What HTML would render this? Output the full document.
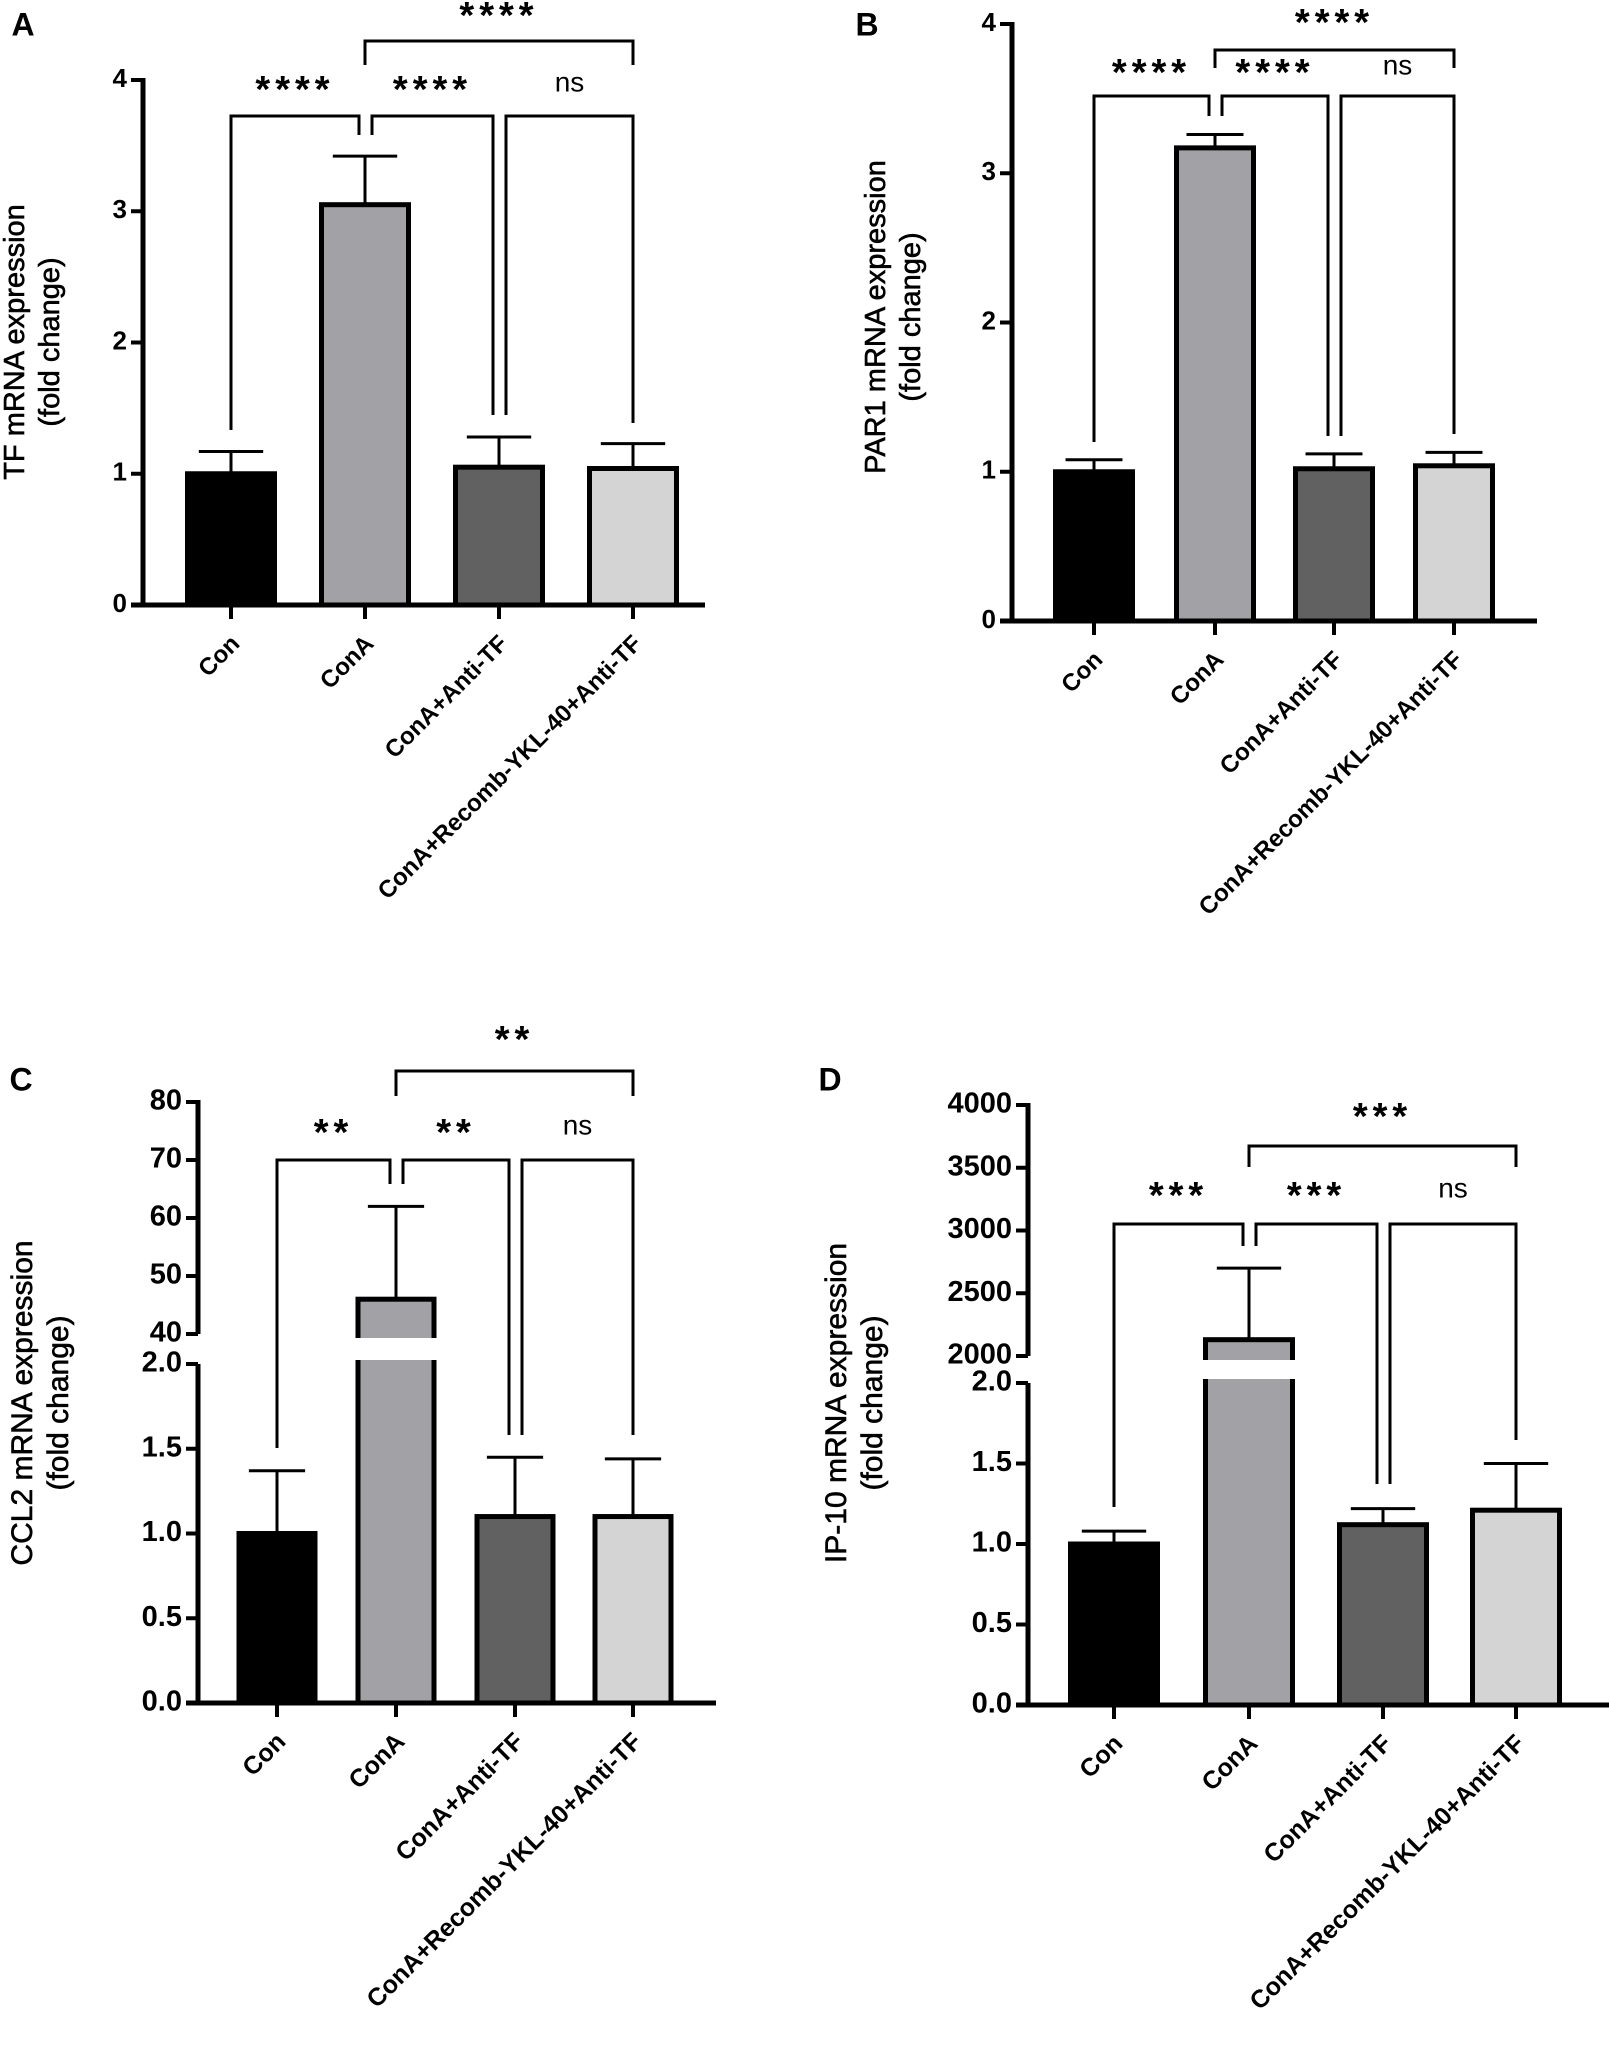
<!DOCTYPE html>
<html><head><meta charset="utf-8"><style>
body{margin:0;background:#fff;}
svg{display:block;font-family:"Liberation Sans",Arial,sans-serif;}
</style></head><body>
<svg id="fig" width="1609" height="2064" viewBox="0 0 1609 2064"></svg>
<script>
const categories = ["Con","ConA","ConA+Anti-TF","ConA+Recomb-YKL-40+Anti-TF"];
const fills = ["#000000","#a2a1a6","#616161","#d4d4d4"];
const tfValues = [1.0, 3.05, 1.05, 1.04];
const tfErrors = [1.17, 3.42, 1.28, 1.23];
const par1Values = [1.0, 3.17, 1.02, 1.04];
const par1Errors = [1.08, 3.26, 1.12, 1.13];
const ccl2Values = [1.0, 46, 1.1, 1.1];
const ccl2Errors = [1.37, 62, 1.45, 1.44];
const ip10Values = [1.0, 2130, 1.12, 1.21];
const ip10Errors = [1.08, 2700, 1.22, 1.5];
const tfTicks = ["0","1","2","3","4"];
const par1Ticks = ["0","1","2","3","4"];
const ccl2LowerTicks = ["0.0","0.5","1.0","1.5","2.0"];
const ccl2UpperTicks = ["40","50","60","70","80"];
const ip10LowerTicks = ["0.0","0.5","1.0","1.5","2.0"];
const ip10UpperTicks = ["2000","2500","3000","3500","4000"];
const sigA = ["****","****","ns","****"];
const sigB = ["****","****","ns","****"];
const sigC = ["**","**","ns","**"];
const sigD = ["***","***","ns","***"];

const NS="http://www.w3.org/2000/svg";
const svg=document.getElementById('fig');
function el(tag,attrs,parent,text){const e=document.createElementNS(NS,tag);for(const k in attrs)e.setAttribute(k,attrs[k]);if(text!==undefined)e.textContent=text;(parent||svg).appendChild(e);return e;}

function panel(cfg){
  const g=el('g',{},svg);
  
  
  const L=el('text',{x:cfg.letterX,y:cfg.letterY,'font-size':32,'font-weight':'bold','text-anchor':'middle','dominant-baseline':'middle'},g,cfg.letter);
  
  
  const lower=cfg.lower, upper=cfg.upper;
  function y(v){
    if(!upper) return lower.y0-(v-lower.min)*(lower.y0-lower.yMax)/(lower.max-lower.min);
    if(v<=lower.max) return lower.y0-(v-lower.min)*(lower.y0-lower.yMax)/(lower.max-lower.min);
    return upper.y0-(v-upper.min)*(upper.y0-upper.yMax)/(upper.max-upper.min);
  }
  const ax=cfg.axisX;
  const tt=el('text',{transform:`translate(${cfg.titleX},${cfg.titleY}) rotate(-90)`,'font-size':cfg.titleSize,'text-anchor':'middle','stroke':'#000','stroke-width':0.6},g);
  
  
  el('tspan',{x:0,dy:0},tt,cfg.title);
  el('tspan',{x:0,dy:cfg.titleSize*1.2},tt,'(fold change)');
  const xs=cfg.centers, bw=cfg.barW;
  cfg.values.forEach((v,i)=>{
    const top=y(v), err=y(cfg.errors[i]);
    const eb=el('line',{x1:xs[i],x2:xs[i],y1:top,y2:err,stroke:'#000','stroke-width':3},g);
    
    
    el('line',{x1:xs[i]-bw*0.37,x2:xs[i]+bw*0.37,y1:err,y2:err,stroke:'#000','stroke-width':3},g);
    const r=el('rect',{x:xs[i]-bw/2,y:top,width:bw,height:lower.y0-top,fill:fills[i],stroke:'#000','stroke-width':5},g);
    
    
    if(upper && v>lower.max){
      el('rect',{x:xs[i]-bw/2-6,y:upper.y0+4,width:bw+12,height:lower.yMax-upper.y0-8,fill:'#fff'},g);
    }
  });
  if(upper){
    el('line',{x1:ax,x2:ax,y1:upper.yMax-2,y2:upper.y0,stroke:'#000','stroke-width':5},g);
    el('line',{x1:ax,x2:ax,y1:lower.yMax,y2:lower.y0+2,stroke:'#000','stroke-width':5},g);
  } else {
    el('line',{x1:ax,x2:ax,y1:lower.yMax-2,y2:lower.y0+2,stroke:'#000','stroke-width':5},g);
  }
  const xa=el('line',{x1:ax-12,x2:cfg.axisEnd,y1:lower.y0,y2:lower.y0,stroke:'#000','stroke-width':5},g);
  
  
  function ticks(set,labels){
    labels.forEach((lab,k)=>{
      const v=set.min+(set.max-set.min)*k/(labels.length-1);
      const ty=y(v);
      el('line',{x1:ax-12,x2:ax,y1:ty,y2:ty,stroke:'#000','stroke-width':4},g);
      const t=el('text',{x:ax-16,y:ty,'font-size':cfg.tickSize,'font-weight':'bold','text-anchor':'end','dominant-baseline':'middle'},g,lab);
      
      
    });
  }
  ticks(lower,cfg.lowerTicks);
  if(upper) ticks(upper,cfg.upperTicks);
  categories.forEach((c,i)=>{
    el('line',{x1:xs[i],x2:xs[i],y1:lower.y0,y2:lower.y0+14,stroke:'#000','stroke-width':4},g);
    const t=el('text',{transform:`translate(${xs[i]+10},${lower.y0+40}) rotate(-45)`,'font-size':cfg.catSize,'font-weight':'bold','text-anchor':'end'},g,c);
    
    
  });
  const b=cfg.br, sig=cfg.sig;
  function bracket(x1,x2,yTop,yL,yR,label,ly,name){
    const p=el('path',{d:`M${x1},${yL} V${yTop} H${x2} V${yR}`,fill:'none',stroke:'#000','stroke-width':3},g);
    
    
    const isNs=label==='ns';
    const t=el('text',{x:(x1+x2)/2,y:ly,'font-size':isNs?28:38,'font-weight':isNs?'normal':'bold','text-anchor':'middle','dominant-baseline':'middle','letter-spacing':isNs?0:5},g,label);
    
    
  }
  bracket(xs[0],xs[1]-6,b.level,b.legs[0],b.legs[1],sig[0],b.starY+8,'bracket-con-vs-cona');
  bracket(xs[1]+7,xs[2]-6,b.level,b.legs[1],b.legs[2],sig[1],b.starY+8,'bracket-cona-vs-antitf');
  bracket(xs[2]+7,xs[3],b.level,b.legs[2],b.legs[3],sig[2],b.starY,'bracket-antitf-vs-recomb');
  bracket(xs[1],xs[3],b.top,b.topLeg,b.topLeg,sig[3],b.topStarY+8,'bracket-cona-vs-recomb');
}

panel({letter:'A',letterX:23,letterY:27,axisX:143,axisEnd:705,
  lower:{min:0,max:4,y0:605,yMax:80},lowerTicks:tfTicks,
  centers:[231,365,499,633],barW:87,values:tfValues,errors:tfErrors,
  title:'TF mRNA expression',titleX:24,titleY:342,titleSize:29,tickSize:26,catSize:24,
  br:{level:116,legs:[430,135,415,423],top:41,topLeg:65,starY:84,topStarY:10},sig:sigA});
panel({letter:'B',letterX:867,letterY:27,axisX:1012,axisEnd:1537,
  lower:{min:0,max:4,y0:621,yMax:24},lowerTicks:par1Ticks,
  centers:[1094,1215,1334,1454],barW:77,values:par1Values,errors:par1Errors,
  title:'PAR1 mRNA expression',titleX:885,titleY:317,titleSize:29,tickSize:26,catSize:24,
  br:{level:96,legs:[442,116,436,434],top:50,topLeg:68,starY:67,topStarY:17},sig:sigB});
panel({letter:'C',letterX:21,letterY:1082,axisX:198,axisEnd:716,
  lower:{min:0,max:2,y0:1703,yMax:1364},lowerTicks:ccl2LowerTicks,
  upper:{min:40,max:80,y0:1334,yMax:1102},upperTicks:ccl2UpperTicks,
  centers:[277,396,515,633],barW:76,values:ccl2Values,errors:ccl2Errors,
  title:'CCL2 mRNA expression',titleX:32,titleY:1403,titleSize:30,tickSize:29,catSize:25,
  br:{level:1160,legs:[1448,1184,1435,1435],top:1071,topLeg:1096,starY:1127,topStarY:1034},sig:sigC});
panel({letter:'D',letterX:830,letterY:1082,axisX:1028,axisEnd:1609,
  lower:{min:0,max:2,y0:1705,yMax:1383},lowerTicks:ip10LowerTicks,
  upper:{min:2000,max:4000,y0:1356,yMax:1105},upperTicks:ip10UpperTicks,
  centers:[1114,1249,1383,1516],barW:87,values:ip10Values,errors:ip10Errors,
  title:'IP-10 mRNA expression',titleX:846,titleY:1403,titleSize:30,tickSize:29,catSize:25,
  br:{level:1224,legs:[1507,1246,1484,1440],top:1146,topLeg:1167,starY:1190,topStarY:1111},sig:sigD});
</script>
</body></html>
